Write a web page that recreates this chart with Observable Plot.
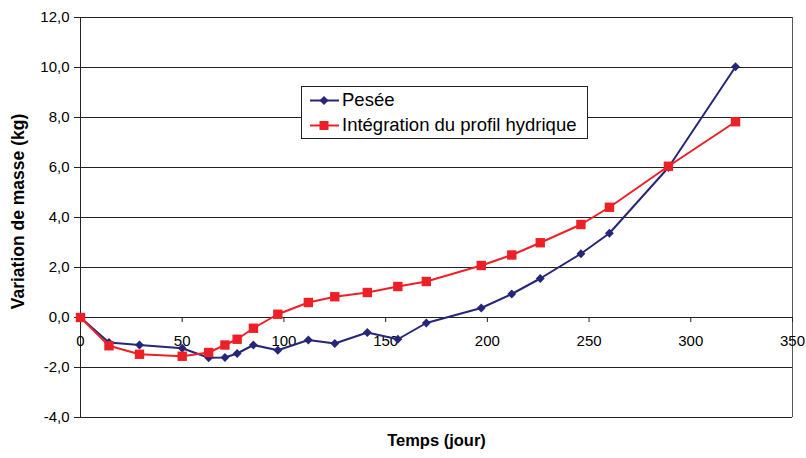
<!DOCTYPE html>
<html>
<head>
<meta charset="utf-8">
<script src="https://cdn.jsdelivr.net/npm/d3@7"></script>
<script src="https://cdn.jsdelivr.net/npm/@observablehq/plot@0.6"></script>
<style>
  html, body { margin: 0; padding: 0; background: #fff; }
  #wrap { position: relative; width: 806px; height: 458px; font-family: "Liberation Sans", Arial, sans-serif; }
  #legend { position: absolute; left: 301px; top: 86px; width: 285px; height: 51px; border: 1px solid #222; background: #fff; font-size: 18.5px; color: #000; }
  .item { position: absolute; left: 0; height: 26px; display: flex; align-items: center; }
  .item svg { display: block; }
  .item span { margin-left: 0px; white-space: nowrap; }
</style>
</head>
<body>
<div id="wrap">
  <div id="chart"></div>
  <div id="legend"></div>
</div>
<script>
// Data
const days = [0, 14, 29, 50, 63, 71, 77, 85, 97, 112, 125, 141, 156, 170, 197, 212, 226, 246, 260, 289, 322];
const pesee = [0, -1.0, -1.1, -1.23, -1.61, -1.6, -1.44, -1.1, -1.31, -0.9, -1.04, -0.6, -0.87, -0.22, 0.38, 0.94, 1.56, 2.55, 3.37, 6.0, 10.03];
const integration = [0, -1.13, -1.47, -1.55, -1.4, -1.1, -0.87, -0.43, 0.13, 0.6, 0.83, 1.0, 1.24, 1.44, 2.08, 2.5, 2.99, 3.72, 4.41, 6.05, 7.83];
const seriesNames = ["Pesée", "Intégration du profil hydrique"];
const seriesColors = ["#262678", "#ee2027"];
const xTicks = [0, 50, 100, 150, 200, 250, 300, 350];
const yTicks = [-4, -2, 0, 2, 4, 6, 8, 10, 12];
const xTitle = "Temps (jour)";
const yTitle = "Variation de masse (kg)";

const dataP = days.map((d, i) => ({x: d, y: pesee[i]}));
const dataI = days.map((d, i) => ({x: d, y: integration[i]}));
const fmt = v => v.toFixed(1).replace(".", ",");

const chart = Plot.plot({
  width: 806,
  height: 458,
  marginLeft: 80,
  marginRight: 14,
  marginTop: 17,
  marginBottom: 41,
  style: {fontFamily: '"Liberation Sans", Arial, sans-serif', fontSize: "15px", color: "#000", background: "#fff"},
  x: {domain: [0, 350], axis: null},
  y: {domain: [-4, 12], axis: null},
  marks: [
    Plot.ruleY(yTicks, {stroke: "#222", strokeWidth: 1}),
    Plot.ruleX([350], {stroke: "#555", strokeWidth: 1}),
    Plot.ruleX([0], {stroke: "#222", strokeWidth: 1}),
    Plot.axisY({ticks: yTicks, tickFormat: fmt, tickSize: 6, tickPadding: 5, fontSize: 15, label: null, stroke: "#222"}),
    Plot.ruleX(xTicks, {x: d => d, y1: 0, y2: 0, insetTop: 0, insetBottom: -5, stroke: "#222"}),
    Plot.text(xTicks, {x: d => d, y: 0, text: d => String(d), dy: 24, fontSize: 15, fill: "#000"}),
    Plot.text([xTitle], {frameAnchor: "bottom", textAnchor: "middle", lineAnchor: "middle", dy: 23, fontWeight: "bold", fontSize: 16.5, fill: "#000"}),
    Plot.text([yTitle], {frameAnchor: "left", textAnchor: "middle", rotate: -90, dx: -62, dy: -6, fontWeight: "bold", fontSize: 17.5, fill: "#000"}),
    Plot.line(dataP, {x: "x", y: "y", stroke: seriesColors[0], strokeWidth: 2}),
    Plot.line(dataI, {x: "x", y: "y", stroke: seriesColors[1], strokeWidth: 2}),
    Plot.dot(dataP, {x: "x", y: "y", symbol: "diamond2", r: 4, fill: seriesColors[0], stroke: "none"}),
    Plot.dot(dataI, {x: "x", y: "y", symbol: "square", r: 5.3, fill: seriesColors[1], stroke: "none"})
  ]
});
document.getElementById("chart").appendChild(chart);

// Legend
const legend = document.getElementById("legend");
seriesNames.forEach((name, i) => {
  const item = document.createElement("div");
  item.className = "item";
  item.style.top = (i === 0 ? 0 : 25) + "px";
  const sym = i === 0
    ? '<path d="M22,7 L26.5,11.5 L22,16 L17.5,11.5 Z" fill="' + seriesColors[i] + '"/>'
    : '<rect x="17.5" y="7" width="9" height="9" fill="' + seriesColors[i] + '"/>';
  item.innerHTML = '<svg width="40" height="23"><line x1="8" x2="37" y1="11.5" y2="11.5" stroke="' + seriesColors[i] + '" stroke-width="2"/>' + sym + '</svg><span>' + name + '</span>';
  legend.appendChild(item);
});
</script>
</body>
</html>
